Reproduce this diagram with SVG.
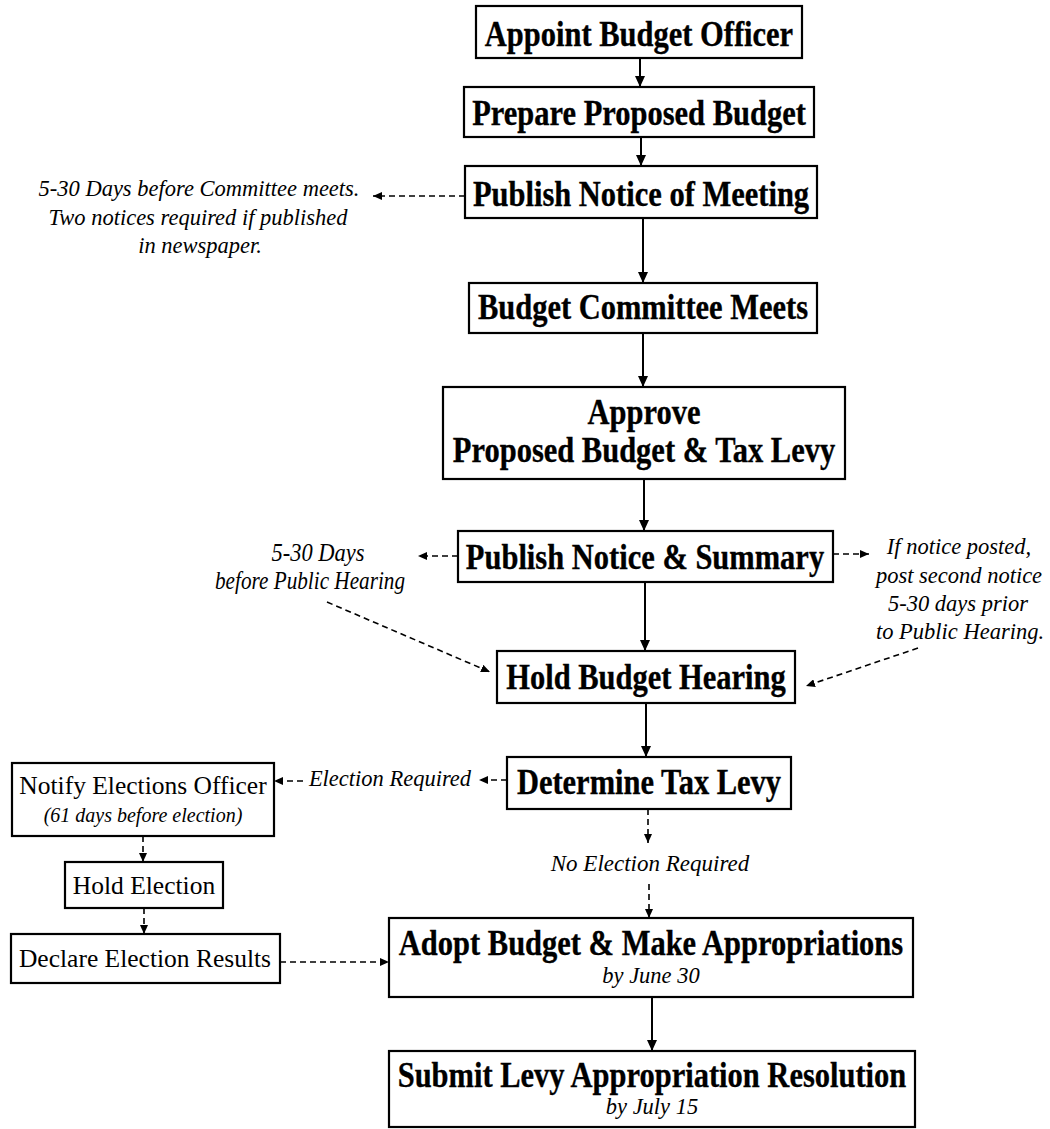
<svg xmlns="http://www.w3.org/2000/svg" width="1050" height="1129" viewBox="0 0 1050 1129">
<defs>
<marker id="ah" markerUnits="userSpaceOnUse" markerWidth="11" markerHeight="10" viewBox="0 0 11 10" refX="11" refY="5" orient="auto"><path d="M0,0 L11,5 L0,10 z" fill="#000"/></marker>
<marker id="ahd" markerUnits="userSpaceOnUse" markerWidth="9" markerHeight="8" viewBox="0 0 9 8" refX="9" refY="4" orient="auto"><path d="M0,0 L9,4 L0,8 z" fill="#000"/></marker>
<style>
.box{fill:#fff;stroke:#000;stroke-width:2.2}
.b{font-family:"Liberation Serif","Times New Roman",serif;font-weight:bold;font-size:30.5px;text-anchor:middle;fill:#000;stroke:#000;stroke-width:0.3}
.r{font-family:"Liberation Serif","Times New Roman",serif;font-size:25.5px;text-anchor:middle;fill:#000}
.i{font-family:"Liberation Serif","Times New Roman",serif;font-style:italic;font-size:22.5px;text-anchor:middle;fill:#000}
.si{font-family:"Liberation Serif","Times New Roman",serif;font-style:italic;font-size:20px;text-anchor:middle;fill:#000}
.s{stroke:#000;stroke-width:2;fill:none;marker-end:url(#ah)}
.d{stroke:#000;stroke-width:1.6;fill:none;stroke-dasharray:6 4;marker-end:url(#ahd)}
</style>
</defs>
<rect width="1050" height="1129" fill="#fff"/>

<g id="connectors">
<line class="s" x1="640" y1="58" x2="640" y2="87"/>
<line class="s" x1="641" y1="137" x2="641" y2="166"/>
<line class="s" x1="643" y1="218" x2="643" y2="283"/>
<line class="s" x1="643" y1="333" x2="643" y2="387"/>
<line class="s" x1="644" y1="479" x2="644" y2="531"/>
<line class="s" x1="645" y1="582" x2="645" y2="651"/>
<line class="s" x1="646" y1="703" x2="646" y2="757"/>
<line class="d" x1="648" y1="809" x2="648" y2="843"/>
<line class="d" x1="649" y1="884" x2="649" y2="918"/>
<line class="s" x1="652" y1="997" x2="652" y2="1051"/>
<line class="d" x1="465" y1="196" x2="373" y2="196"/>
<line class="d" x1="458" y1="556" x2="418" y2="556"/>
<line class="d" x1="833" y1="554" x2="869" y2="554"/>
<line class="d" x1="327" y1="602" x2="490" y2="672"/>
<line class="d" x1="918" y1="648" x2="806" y2="686"/>
<line class="d" x1="507" y1="780" x2="479" y2="780"/>
<line class="d" x1="303" y1="781" x2="274" y2="781"/>
<line class="d" x1="143" y1="836" x2="143" y2="862"/>
<line class="d" x1="144" y1="908" x2="144" y2="934"/>
<line class="d" x1="280" y1="962" x2="389" y2="962"/>
</g>

<g id="n1"><rect class="box" x="476" y="6" width="326" height="52"/><text class="b" transform="translate(639,46) scale(1,1.15)">Appoint Budget Officer</text></g>
<g id="n2"><rect class="box" x="464" y="87" width="350" height="50"/><text class="b" transform="translate(639,125) scale(1,1.15)">Prepare Proposed Budget</text></g>
<g id="n3"><rect class="box" x="465" y="166" width="352" height="52"/><text class="b" transform="translate(641,206) scale(1,1.15)">Publish Notice of Meeting</text></g>
<g id="n3note"><text class="i" x="199" y="196">5-30 Days before Committee meets.</text><text class="i" x="198" y="225">Two notices required if published</text><text class="i" x="200" y="253">in newspaper.</text></g>
<g id="n4"><rect class="box" x="469" y="283" width="348" height="50"/><text class="b" transform="translate(643,319) scale(1,1.15)">Budget Committee Meets</text></g>
<g id="n5"><rect class="box" x="443" y="387" width="402" height="92"/><text class="b" transform="translate(644,424) scale(1,1.15)">Approve</text><text class="b" transform="translate(644,462) scale(1,1.15)">Proposed Budget &amp; Tax Levy</text></g>
<g id="n6"><rect class="box" x="458" y="531" width="375" height="51"/><text class="b" transform="translate(645,569) scale(1,1.15)">Publish Notice &amp; Summary</text></g>
<g id="n6left"><text class="i" transform="translate(318,561) scale(1,1.15)">5-30 Days</text><text class="i" transform="translate(310,589) scale(1,1.15)" textLength="190" lengthAdjust="spacingAndGlyphs">before Public Hearing</text></g>
<g id="n6right"><text class="i" x="959" y="554">If notice posted,</text><text class="i" x="959" y="583">post second notice</text><text class="i" x="958" y="611">5-30 days prior</text><text class="i" x="960" y="639">to Public Hearing.</text></g>
<g id="n7"><rect class="box" x="497" y="651" width="298" height="52"/><text class="b" transform="translate(646,689) scale(1,1.15)">Hold Budget Hearing</text></g>
<g id="n8"><rect class="box" x="507" y="757" width="284" height="52"/><text class="b" transform="translate(649,794) scale(1,1.15)">Determine Tax Levy</text></g>
<g id="elreq"><text class="i" x="390" y="786">Election Required</text></g>
<g id="noel"><text class="i" x="650" y="871" style="font-size:23px">No Election Required</text></g>
<g id="n9"><rect class="box" x="389" y="918" width="524" height="79"/><text class="b" transform="translate(651,955) scale(1,1.15)">Adopt Budget &amp; Make Appropriations</text><text class="i" x="651" y="983">by June 30</text></g>
<g id="n10"><rect class="box" x="389" y="1051" width="526" height="76"/><text class="b" transform="translate(652,1087) scale(1,1.15)">Submit Levy Appropriation Resolution</text><text class="i" x="652" y="1114">by July 15</text></g>
<g id="e1"><rect class="box" x="12" y="763" width="262" height="73"/><text class="r" x="143" y="794">Notify Elections Officer</text><text class="si" x="143" y="822">(61 days before election)</text></g>
<g id="e2"><rect class="box" x="65" y="862" width="158" height="46"/><text class="r" x="144" y="894">Hold Election</text></g>
<g id="e3"><rect class="box" x="11" y="934" width="269" height="49"/><text class="r" x="145" y="967">Declare Election Results</text></g>
</svg>
